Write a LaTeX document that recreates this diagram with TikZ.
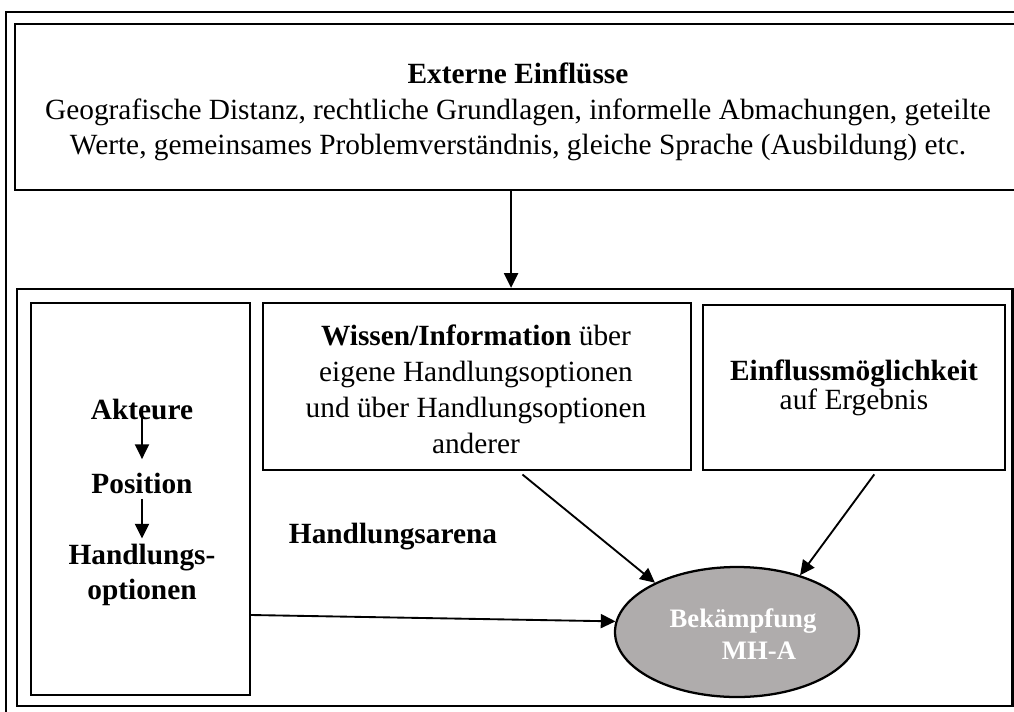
\documentclass[tikz,border=0pt]{standalone}
\usepackage{fontspec}
\setmainfont{Liberation Serif}
\usetikzlibrary{arrows.meta, positioning, calc, shapes.geometric, fit}

\definecolor{ovalgray}{HTML}{AFACAC}

\tikzset{
  box/.style={draw, line width=1.7pt, inner sep=0pt},
  txt/.style={align=center, inner sep=0pt, font=\fontsize{22}{26.6}\selectfont},
  arr/.style={-{Triangle[length=11pt,width=10.5pt]}, line width=1.4pt},
}

\begin{document}
\begin{tikzpicture}[x=0.75pt, y=-0.75pt]
\clip (0,0) rectangle (1014,711);
% outer frame, runs past the right and lower edge
\draw[line width=1.6pt] (6,12) rectangle (1030,730);

% external influences
\node[box, fit={(15,24) (1030,190)}] (ext) {};
\node[txt] (extt) at (518,112) {\textbf{Externe Einflüsse}\\
  Geografische Distanz, rechtliche Grundlagen, informelle Abmachungen, geteilte\\
  Werte, gemeinsames Problemverständnis, gleiche Sprache (Ausbildung) etc.};

% action arena
\node[box, fit={(17,289) (1012.5,706)}] (arena) {};
\node[box, fit={(31,303) (250,695)}] (akb) {};
\node[box, fit={(263,303) (691,470)}] (wis) {};
\node[box, fit={(703,305) (1005,470)}] (einf) {};

\node[txt, font=\fontsize{22}{27}\selectfont\bfseries] (akt) at (142,409) {Akteure};
\node[txt, font=\fontsize{22}{27}\selectfont\bfseries] (pos) at (142,483) {Position};
\node[txt, font=\fontsize{22}{26.5}\selectfont\bfseries] (hopt) at (142,575) {Handlungs-\\optionen};

\node[txt, font=\fontsize{22}{27}\selectfont] (wist) at (476,389) {\textbf{Wissen/Information} über\\
  eigene Handlungsoptionen\\und über Handlungsoptionen\\anderer};
\node[txt, font=\fontsize{22}{21.5}\selectfont] (einft) at (854,388) {\textbf{Einflussmöglichkeit}\\auf Ergebnis};

\node[txt, font=\fontsize{22}{27}\selectfont\bfseries] (arent) at (393,537) {Handlungsarena};

% target
\node[ellipse, draw, fill=ovalgray, line width=1.7pt, minimum width=183pt, minimum height=97.5pt] (ell) at (737,632) {};
\node[txt, text=white, font=\fontsize{20}{24}\selectfont\bfseries] (ellt) at (743,634) {Bekämpfung\\\hspace*{1.2em}MH-A};

% arrows
\draw[arr] ([xshift=-8.6pt]ext.south) -- ([xshift=-8.6pt]ext.south |- arena.north);
\draw[arr, shorten <=-1pt, shorten >=10pt] (akt.south) -- (pos.north);
\draw[arr, shorten <=4pt, shorten >=4pt] (pos.south) -- (hopt.north);
\draw[arr, shorten <=4pt] ([xshift=31pt]wis.south) -- (ell.149);
\draw[arr, shorten <=3pt] ([xshift=17pt]einf.south) -- (ell.42);
\draw[arr] ([yshift=-87pt]akb.east) -- (ell.175);
\end{tikzpicture}
\end{document}
